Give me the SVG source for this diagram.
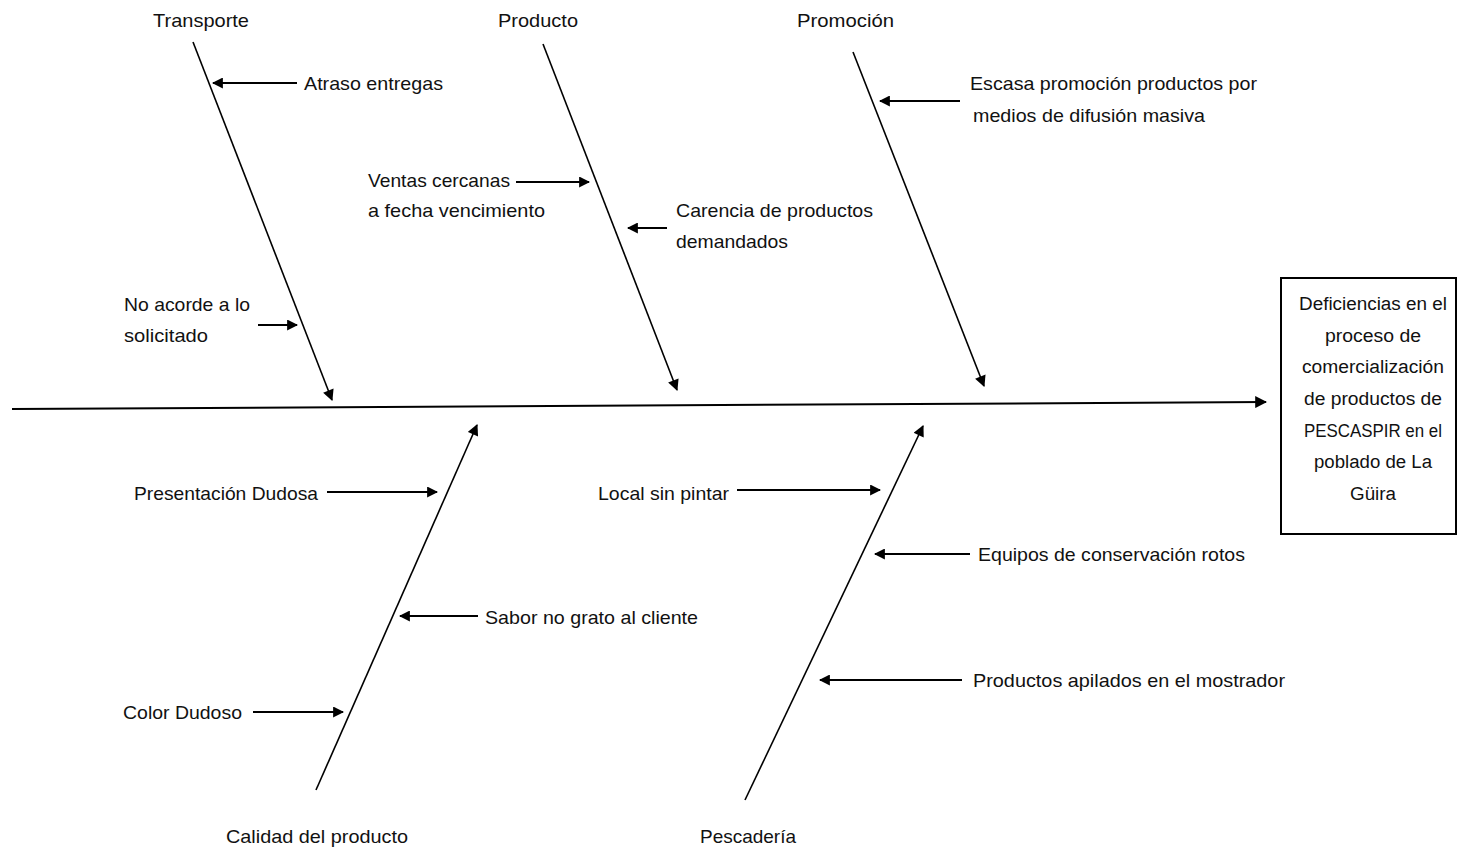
<svg xmlns="http://www.w3.org/2000/svg" width="1457" height="851" viewBox="0 0 1457 851">
<defs>
<marker id="ah" viewBox="0 0 10 10" refX="9" refY="5" markerWidth="8" markerHeight="7" orient="auto" markerUnits="strokeWidth">
<path d="M0,0 L10,5 L0,10 z" fill="#000"/>
</marker>
<marker id="ahm" viewBox="0 0 10 10" refX="9" refY="5" markerWidth="6" markerHeight="6" orient="auto" markerUnits="strokeWidth">
<path d="M0,0 L10,5 L0,10 z" fill="#000"/>
</marker>
<marker id="ahs" viewBox="0 0 10 10" refX="9" refY="5" markerWidth="5.5" markerHeight="5.5" orient="auto" markerUnits="strokeWidth">
<path d="M0,0 L10,5 L0,10 z" fill="#000"/>
</marker>
<style>
text{font-family:"Liberation Sans",Arial,sans-serif;font-size:19px;fill:#111}
.box{font-size:18px}
.bone{stroke:#000;stroke-width:1.6;fill:none;marker-end:url(#ah)}
.spine{stroke:#000;stroke-width:2;fill:none;marker-end:url(#ahm)}
.arr{stroke:#000;stroke-width:2;fill:none;marker-end:url(#ahs)}
.mid{text-anchor:middle}
</style>
</defs>
<rect width="1457" height="851" fill="#fff"/>
<g id="connectors">
<line class="spine" x1="12" y1="409" x2="1266" y2="402"/>
<line class="bone" x1="193" y1="42" x2="332" y2="400"/>
<line class="bone" x1="543" y1="44" x2="677" y2="390"/>
<line class="bone" x1="853" y1="52" x2="984" y2="386"/>
<line class="bone" x1="316" y1="790" x2="477" y2="425"/>
<line class="bone" x1="745" y1="800" x2="923" y2="426"/>
<line class="arr" x1="297" y1="83" x2="213" y2="83"/>
<line class="arr" x1="516" y1="182" x2="589" y2="182"/>
<line class="arr" x1="667" y1="228" x2="628" y2="228"/>
<line class="arr" x1="960" y1="101" x2="880" y2="101"/>
<line class="arr" x1="258" y1="325" x2="297" y2="325"/>
<line class="arr" x1="327" y1="492" x2="437" y2="492"/>
<line class="arr" x1="478" y1="616" x2="400" y2="616"/>
<line class="arr" x1="253" y1="712" x2="343" y2="712"/>
<line class="arr" x1="737" y1="490" x2="880" y2="490"/>
<line class="arr" x1="970" y1="554" x2="875" y2="554"/>
<line class="arr" x1="962" y1="680" x2="820" y2="680"/>
</g>
<g id="effect">
<rect x="1281" y="278" width="175" height="256" fill="#fff" stroke="#000" stroke-width="2"/>
<text class="mid box" x="1373" y="310" textLength="148" lengthAdjust="spacingAndGlyphs">Deficiencias en el</text>
<text class="mid box" x="1373" y="342" textLength="96" lengthAdjust="spacingAndGlyphs">proceso de</text>
<text class="mid box" x="1373" y="373" textLength="142" lengthAdjust="spacingAndGlyphs">comercialización</text>
<text class="mid box" x="1373" y="405" textLength="138" lengthAdjust="spacingAndGlyphs">de productos de</text>
<text class="mid box" x="1373" y="437" textLength="138" lengthAdjust="spacingAndGlyphs">PESCASPIR en el</text>
<text class="mid box" x="1373" y="468" textLength="118" lengthAdjust="spacingAndGlyphs">poblado de La</text>
<text class="mid box" x="1373" y="500" textLength="46" lengthAdjust="spacingAndGlyphs">Güira</text>
</g>
<g id="transporte">
<text x="153" y="27" textLength="96" lengthAdjust="spacingAndGlyphs">Transporte</text>
<text x="304" y="90" textLength="139" lengthAdjust="spacingAndGlyphs">Atraso entregas</text>
<text x="124" y="311" textLength="126" lengthAdjust="spacingAndGlyphs">No acorde a lo</text>
<text x="124" y="342" textLength="84" lengthAdjust="spacingAndGlyphs">solicitado</text>
</g>
<g id="producto">
<text x="498" y="27" textLength="80" lengthAdjust="spacingAndGlyphs">Producto</text>
<text x="368" y="187" textLength="142" lengthAdjust="spacingAndGlyphs">Ventas cercanas</text>
<text x="368" y="217" textLength="177" lengthAdjust="spacingAndGlyphs">a fecha vencimiento</text>
<text x="676" y="217" textLength="197" lengthAdjust="spacingAndGlyphs">Carencia de productos</text>
<text x="676" y="248" textLength="112" lengthAdjust="spacingAndGlyphs">demandados</text>
</g>
<g id="promocion">
<text x="797" y="27" textLength="97" lengthAdjust="spacingAndGlyphs">Promoción</text>
<text x="970" y="90" textLength="287" lengthAdjust="spacingAndGlyphs">Escasa promoción productos por</text>
<text x="973" y="122" textLength="232" lengthAdjust="spacingAndGlyphs">medios de difusión masiva</text>
</g>
<g id="calidad">
<text x="226" y="843" textLength="182" lengthAdjust="spacingAndGlyphs">Calidad del producto</text>
<text x="134" y="500" textLength="184" lengthAdjust="spacingAndGlyphs">Presentación Dudosa</text>
<text x="485" y="624" textLength="213" lengthAdjust="spacingAndGlyphs">Sabor no grato al cliente</text>
<text x="123" y="719" textLength="119" lengthAdjust="spacingAndGlyphs">Color Dudoso</text>
</g>
<g id="pescaderia">
<text x="700" y="843" textLength="96" lengthAdjust="spacingAndGlyphs">Pescadería</text>
<text x="598" y="500" textLength="131" lengthAdjust="spacingAndGlyphs">Local sin pintar</text>
<text x="978" y="561" textLength="267" lengthAdjust="spacingAndGlyphs">Equipos de conservación rotos</text>
<text x="973" y="687" textLength="312" lengthAdjust="spacingAndGlyphs">Productos apilados en el mostrador</text>
</g>
</svg>
